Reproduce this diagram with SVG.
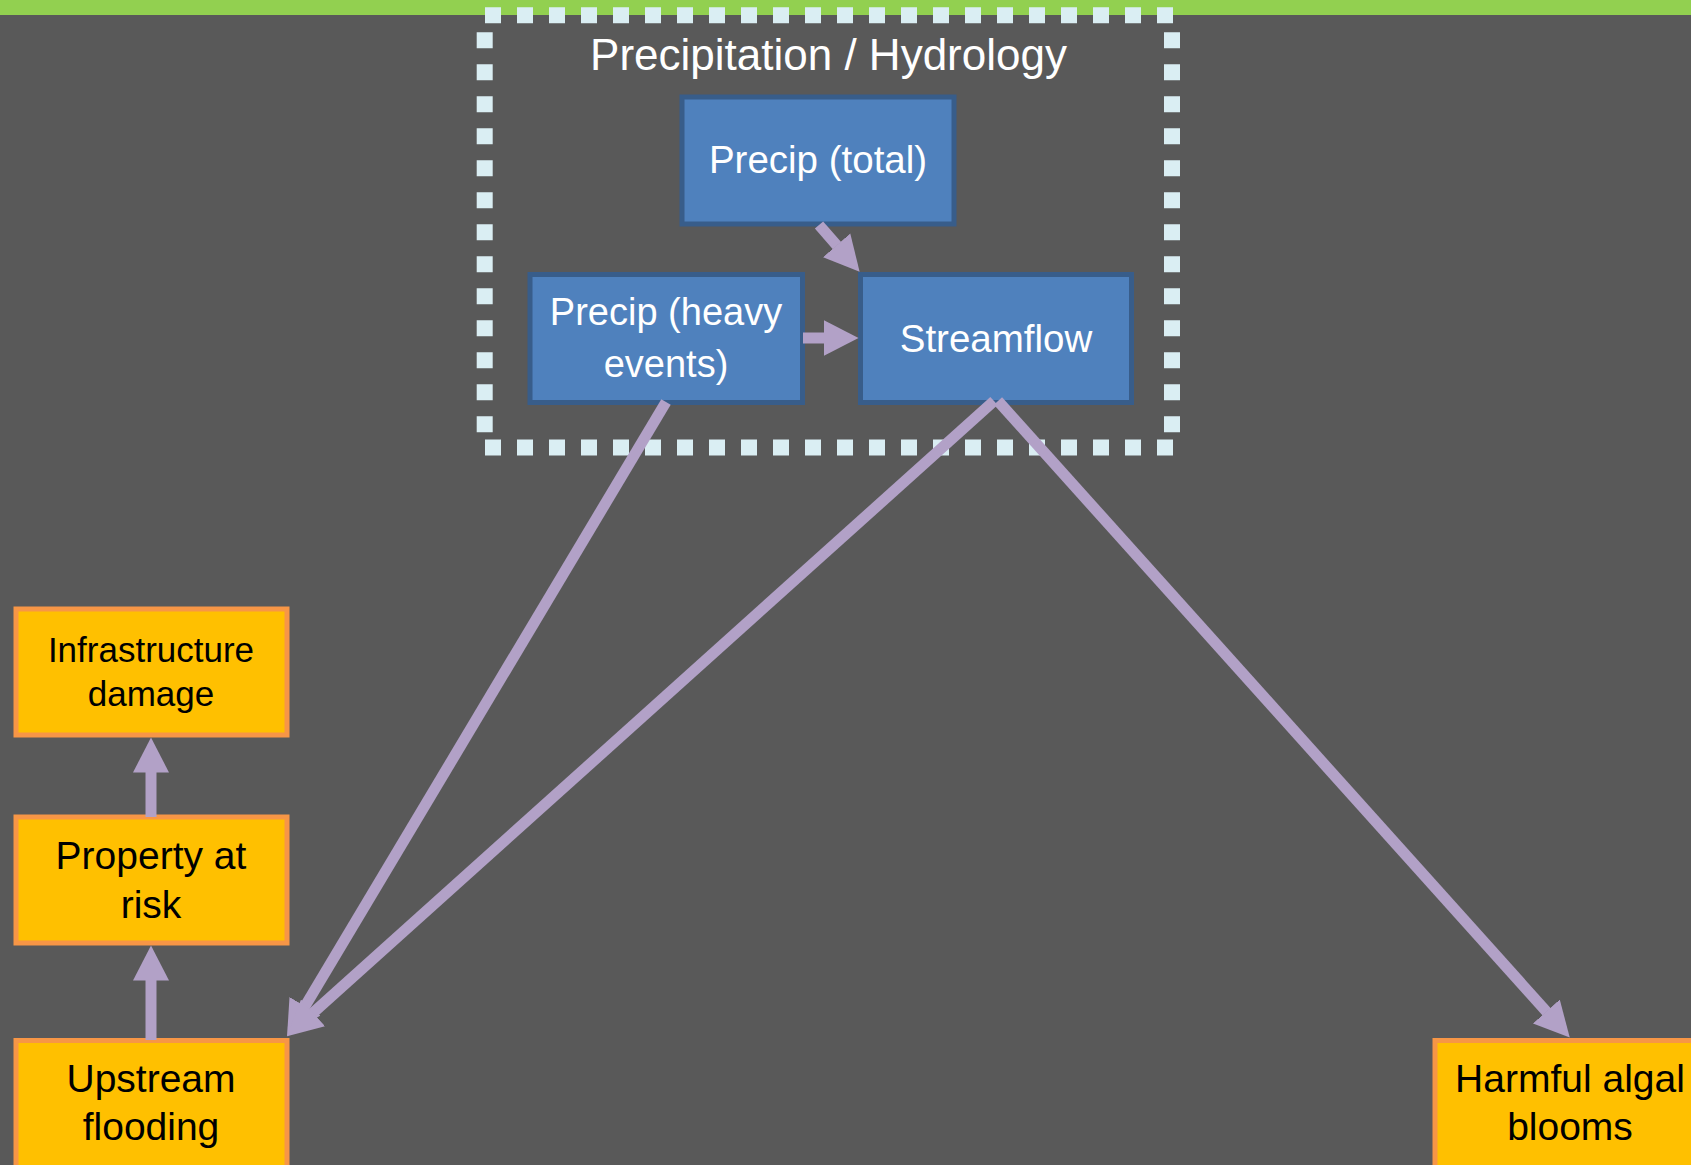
<svg xmlns="http://www.w3.org/2000/svg" width="1691" height="1165" viewBox="0 0 1691 1165">
<style>
.bg{fill:#595959}
.bar{fill:#92d050}
.dash{stroke:#daeef3;stroke-width:16;stroke-dasharray:16 16;fill:none}
.blue{fill:#4f81bd;stroke:#385d8a;stroke-width:5}
.orange{fill:#ffc000;stroke:#f79646;stroke-width:5}
.wt{font-family:"Liberation Sans",Arial,sans-serif;fill:#ffffff;text-anchor:middle}
.bt{font-family:"Liberation Sans",Arial,sans-serif;fill:#000000;text-anchor:middle}
.conn{stroke:#b2a1c7;stroke-width:11;fill:none;marker-end:url(#ah)}
</style>
<defs>
<marker id="ah" markerUnits="userSpaceOnUse" markerWidth="36" markerHeight="38" viewBox="0 -19 36 38" refX="0.5" refY="0" orient="auto">
<path d="M0,-18 L35,0 L0,18 Z" fill="#b2a1c7"/>
</marker>
</defs>
<rect class="bg" x="0" y="0" width="1691" height="1165"/>
<rect class="bar" x="0" y="0" width="1691" height="15"/>

<g id="precip-hydrology">
<line class="dash" x1="485" y1="15.3" x2="1173" y2="15.3"/>
<line class="dash" x1="485" y1="447.5" x2="1173" y2="447.5"/>
<line class="dash" x1="484.7" y1="32.3" x2="484.7" y2="432.3"/>
<line class="dash" x1="1172" y1="32.3" x2="1172" y2="432.3"/>
<text class="wt" x="828.5" y="70" font-size="44">Precipitation / Hydrology</text>
</g>

<g id="precip-total">
<rect class="blue" x="682" y="97" width="272" height="127"/>
<text class="wt" x="818" y="173" font-size="38.5">Precip (total)</text>
</g>
<g id="precip-heavy">
<rect class="blue" x="530" y="274.5" width="272.5" height="128"/>
<text class="wt" x="666" y="325" font-size="38">Precip (heavy</text>
<text class="wt" x="666" y="376.5" font-size="38">events)</text>
</g>
<g id="streamflow">
<rect class="blue" x="860.5" y="274.5" width="271" height="128"/>
<text class="wt" x="996" y="352" font-size="38.5">Streamflow</text>
</g>

<g id="infrastructure-damage">
<rect class="orange" x="16" y="609" width="271" height="126"/>
<text class="bt" x="151" y="661.5" font-size="35">Infrastructure</text>
<text class="bt" x="151" y="706" font-size="35">damage</text>
</g>
<g id="property-at-risk">
<rect class="orange" x="16" y="817" width="271" height="126"/>
<text class="bt" x="151" y="868.5" font-size="39">Property at</text>
<text class="bt" x="151" y="918" font-size="39">risk</text>
</g>
<g id="upstream-flooding">
<rect class="orange" x="16" y="1040.5" width="271" height="127"/>
<text class="bt" x="151" y="1091.5" font-size="39">Upstream</text>
<text class="bt" x="151" y="1140" font-size="39">flooding</text>
</g>
<g id="harmful-algal-blooms">
<rect class="orange" x="1435" y="1040.5" width="271" height="127"/>
<text class="bt" x="1570" y="1091.5" font-size="39">Harmful algal</text>
<text class="bt" x="1570" y="1140" font-size="39">blooms</text>
</g>

<g id="connectors">
<path class="conn" d="M819,225 L837,245.7"/>
<path class="conn" d="M803,338 L824,338"/>
<path class="conn" d="M666,402 L304.7,1006.7"/>
<path class="conn" d="M994,401 L312.7,1013.2"/>
<path class="conn" d="M998,401 L1546.7,1011.9"/>
<path class="conn" d="M151,1040 L151,980"/>
<path class="conn" d="M151,817 L151,772"/>
</g>
</svg>
